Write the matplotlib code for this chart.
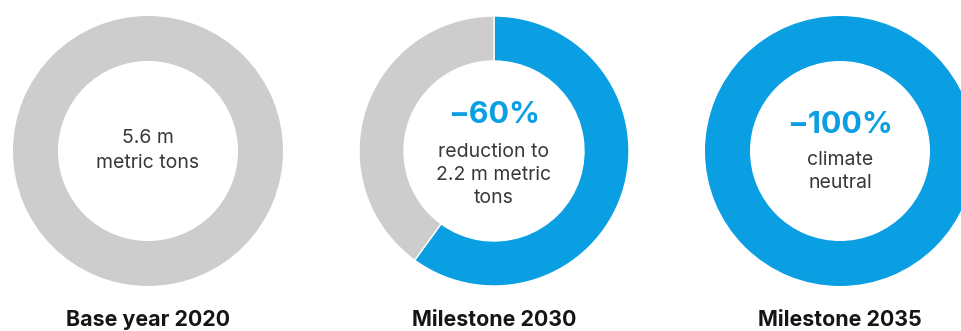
import matplotlib
matplotlib.use("Agg")
import matplotlib.pyplot as plt

plt.rcParams['font.family'] = ['Inter', 'DejaVu Sans']

titles = ["Base year 2020", "Milestone 2030", "Milestone 2035"]
reduction_pct = [0, 60, 100]
headlines = ["", "\u221260%", "\u2212100%"]
subtexts = ["5.6 m\nmetric tons", "reduction to\n2.2 m metric\ntons", "climate\nneutral"]

BLUE = "#0A9FE3"
GRAY = "#CDCDCD"

W, H = 961, 331
fig = plt.figure(figsize=(W / 100, H / 100), dpi=100)
ax = fig.add_axes([0, 0, 1, 1])

centers_x = [148, 494, 840]
cy = H - 151
R = 135
ring = 45

for i, (t, red, hl, st) in enumerate(zip(titles, reduction_pct, headlines, subtexts)):
    cx = centers_x[i]
    vals = [red, 100 - red]
    cols = [BLUE, GRAY]
    vv = [v for v in vals if v > 0]
    cc = [c for v, c in zip(vals, cols) if v > 0]
    ax.pie(vv, colors=cc, center=(cx, cy), radius=R, startangle=90,
           counterclock=False, frame=True,
           wedgeprops=dict(width=ring, edgecolor="white", linewidth=1 if len(vv) > 1 else 0))
    ax.text(cx, H - 320, t, ha='center', va='center', fontsize=15.4,
            fontweight='bold', color='#151515')
    if hl:
        nlines = st.count("\n") + 1
        if nlines == 3:
            hy, sy = 115, [152, 175, 198]
        else:
            hy, sy = 125, [160, 183]
        ax.text(cx, H - hy, hl, ha='center', va='center', fontsize=22,
                fontweight='bold', color=BLUE)
    else:
        sy = [138, 163]
    for line, y in zip(st.split("\n"), sy):
        ax.text(cx, H - y, line, ha='center', va='center', fontsize=14,
                color='#383838')

ax.set_xlim(0, W)
ax.set_ylim(0, H)
ax.set_aspect('equal')
ax.axis('off')
fig.savefig("out.png", dpi=100, facecolor='white')
